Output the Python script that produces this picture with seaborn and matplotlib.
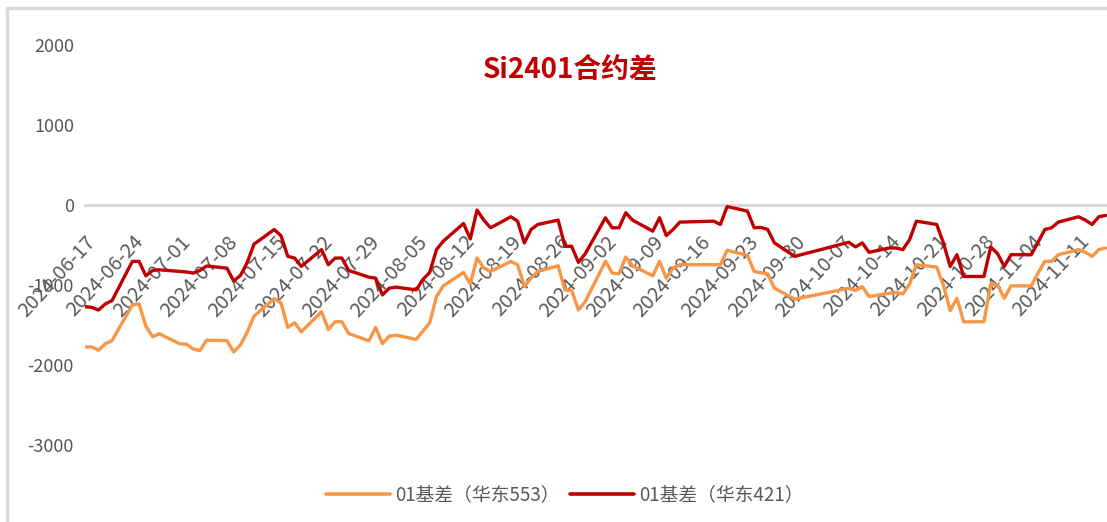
import matplotlib
matplotlib.use("Agg")
import matplotlib.pyplot as plt
from matplotlib.lines import Line2D
import pandas as pd
import seaborn as sns

# Trading days shown on the chart
dates = [
    "2024-06-17", "2024-06-18", "2024-06-19", "2024-06-20", "2024-06-21",
    "2024-06-24", "2024-06-25", "2024-06-26", "2024-06-27", "2024-06-28",
    "2024-07-01", "2024-07-02", "2024-07-03", "2024-07-04", "2024-07-05",
    "2024-07-08", "2024-07-09", "2024-07-10", "2024-07-11", "2024-07-12",
    "2024-07-15", "2024-07-16", "2024-07-17", "2024-07-18", "2024-07-19",
    "2024-07-22", "2024-07-23", "2024-07-24", "2024-07-25", "2024-07-26",
    "2024-07-29", "2024-07-30", "2024-07-31", "2024-08-01", "2024-08-02",
    "2024-08-05", "2024-08-06", "2024-08-07", "2024-08-08", "2024-08-09",
    "2024-08-12", "2024-08-13", "2024-08-14", "2024-08-15", "2024-08-16",
    "2024-08-19", "2024-08-20", "2024-08-21", "2024-08-22", "2024-08-23",
    "2024-08-26", "2024-08-27", "2024-08-28", "2024-08-29", "2024-08-30",
    "2024-09-02", "2024-09-03", "2024-09-04", "2024-09-05", "2024-09-06",
    "2024-09-09", "2024-09-10", "2024-09-11", "2024-09-12", "2024-09-13",
    "2024-09-18", "2024-09-19", "2024-09-20",
    "2024-09-23", "2024-09-24", "2024-09-25", "2024-09-26", "2024-09-27",
    "2024-09-30",
    "2024-10-08", "2024-10-09", "2024-10-10", "2024-10-11",
    "2024-10-14", "2024-10-15", "2024-10-16", "2024-10-17", "2024-10-18",
    "2024-10-21", "2024-10-22", "2024-10-23", "2024-10-24", "2024-10-25",
    "2024-10-28", "2024-10-29", "2024-10-30", "2024-10-31", "2024-11-01",
    "2024-11-04", "2024-11-05", "2024-11-06", "2024-11-07", "2024-11-08",
    "2024-11-11", "2024-11-12", "2024-11-13", "2024-11-14", "2024-11-15",
]

# 01基差（华东553）
basis_553 = [
    -1774, -1774, -1815, -1735, -1695,
    -1250, -1235, -1515, -1645, -1610,
    -1735, -1740, -1800, -1820, -1690,
    -1695, -1835, -1750, -1590, -1390,
    -1170, -1225, -1530, -1472, -1585,
    -1334, -1556, -1459, -1459, -1606,
    -1698, -1531, -1732, -1640, -1627,
    -1680, -1575, -1472, -1145, -1011,
    -843, -986, -663, -788, -830,
    -705, -746, -1019, -914, -830,
    -759, -1061, -1069, -1313, -1208,
    -705, -851, -860, -650, -759,
    -885, -705, -914, -788, -746,
    -746, -746, -566,
    -630, -830, -847, -860, -1040,
    -1178,
    -1040, -1069, -1019, -1145,
    -1103, -1095, -1111, -986, -747,
    -776, -1000, -1321, -1166, -1460,
    -1460, -986, -998, -1166, -1011,
    -1011, -851, -705, -705, -621,
    -558, -591, -642, -558, -537,
]

# 01基差（华东421）
basis_421 = [
    -1271, -1279, -1313, -1237, -1195,
    -705, -705, -885, -818, -810,
    -830, -837, -851, -818, -762,
    -790, -950, -880, -720, -490,
    -306, -385, -642, -663, -767,
    -558, -746, -663, -663, -818,
    -902, -914, -1124, -1040, -1027,
    -1061, -930, -843, -558, -453,
    -231, -424, -63, -189, -285,
    -147, -202, -474, -306, -243,
    -189, -516, -516, -717, -610,
    -160, -285, -285, -97, -189,
    -327, -160, -382, -306, -214,
    -202, -243, -20,
    -76, -285, -280, -306, -474,
    -642,
    -466, -524, -474, -591,
    -537, -537, -558, -432, -202,
    -243, -474, -768, -621, -893,
    -893, -524, -608, -768, -621,
    -621, -466, -306, -285, -214,
    -147, -189, -243, -147, -130,
]

series_names = ["01基差（华东553）", "01基差（华东421）"]
series_colors = ["#F79646", "#C00000"]
title_text = "Si2401合约差"
y_ticks = [-3000, -2000, -1000, 0, 1000, 2000]
x_tick_dates = pd.date_range("2024-06-17", "2024-11-11", freq="7D")

sns.set_theme(style="white")
plt.rcParams["font.family"] = ["Noto Sans CJK SC", "DejaVu Sans"]
plt.rcParams["axes.unicode_minus"] = False

df = pd.DataFrame({
    "date": pd.to_datetime(dates * 2),
    "value": basis_553 + basis_421,
    "series": [series_names[0]] * len(dates) + [series_names[1]] * len(dates),
})

W, H = 1107, 522
fig = plt.figure(figsize=(W / 100, H / 100), dpi=100)
fig.patch.set_facecolor("white")
ax = fig.add_axes([85 / W, 77 / H, (W - 85) / W, 400 / H])
ax.set_facecolor("none")

sns.lineplot(data=df, x="date", y="value", hue="series",
             hue_order=series_names, palette=series_colors,
             linewidth=2.4, ax=ax, legend=False)

start = pd.Timestamp("2024-06-17")
ax.set_xlim(start, start + pd.Timedelta(days=151.2))
ax.set_ylim(-3000, 2000)

# x axis drawn along the zero line, ticks hanging below it
for side in ["left", "right", "top"]:
    ax.spines[side].set_visible(False)
ax.spines["bottom"].set_position(("data", 0))
ax.spines["bottom"].set_color("#D9D9D9")
ax.spines["bottom"].set_linewidth(2.2)
ax.spines["bottom"].set_zorder(0)

ax.set_xticks(x_tick_dates)
ax.set_xticklabels([d.strftime("%Y-%m-%d") for d in x_tick_dates],
                   rotation=47, ha="right", rotation_mode="anchor",
                   fontsize=14.5, color="#595959")
ax.tick_params(axis="x", direction="out", length=6, width=2.2,
               color="#D9D9D9", pad=13)

ax.set_yticks(y_ticks)
ax.set_yticklabels([str(v) for v in y_ticks], fontsize=13, color="#595959")
ax.tick_params(axis="y", length=0, pad=8)
ax.grid(False)
ax.set_xlabel("")
ax.set_ylabel("")

ax.text(0.475, 0.9375, title_text, transform=ax.transAxes, ha="center",
        va="center", fontsize=20, fontweight="bold", color="#C00000")

handles = [Line2D([0], [0], color=c, lw=2.6) for c in series_colors]
fig.legend(handles, series_names, loc="center", bbox_to_anchor=(565 / W, 1 - 495 / H),
           ncol=2, frameon=False, fontsize=13.5, handlelength=3.4,
           handletextpad=0.3, columnspacing=0.55, labelcolor="#595959")

# chart border (light grey frame at the top and left)
fig.add_artist(Line2D([7 / W, 1.0], [1 - 8 / H, 1 - 8 / H], transform=fig.transFigure,
                      color="#D9D9D9", lw=2.5))
fig.add_artist(Line2D([7 / W, 7 / W], [0, 1 - 8 / H], transform=fig.transFigure,
                      color="#D9D9D9", lw=2.5))

fig.savefig("out.png", dpi=100)
